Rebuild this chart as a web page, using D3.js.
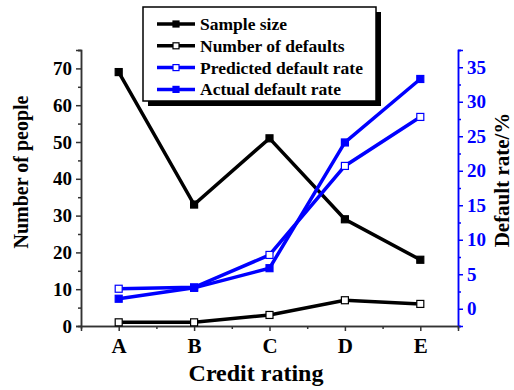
<!DOCTYPE html>
<html>
<head lang="en">
    <meta charset="UTF-8">
    <title>Credit rating chart</title>
    <script src="https://cdnjs.cloudflare.com/ajax/libs/d3/7.8.5/d3.min.js" charset="utf-8"></script>
    <style>
        body { margin: 0; background: white; }
        text { font-family: "Liberation Serif", "Times New Roman", serif; font-weight: bold; }
    </style>
</head>

<body>
<div id="chart"></div>
<script>

// data
var categories = ['A', 'B', 'C', 'D', 'E'];
var sampleSize = [69, 33, 51, 29, 18];
var defaults = [1, 1, 3, 7, 6];
var predictedRate = [2.9, 3.1, 7.8, 20.7, 27.8];
var actualRate = [1.45, 3.03, 5.88, 24.1, 33.3];
var leftTicks = [0, 10, 20, 30, 40, 50, 60, 70];
var rightTicks = [0, 5, 10, 15, 20, 25, 30, 35];

var width = 514, height = 390;
var margin = {top: 50, bottom: 64, left: 81, right: 56};

var svg = d3.select('#chart').append('svg')
    .attr('width', width)
    .attr('height', height);

var x = d3.scaleLinear().domain([0.5, 5.5]).range([margin.left, width - margin.right]);
var yL = d3.scaleLinear().domain([0, 75]).range([height - margin.bottom, margin.top]);
var yR = d3.scaleLinear().domain([-2.5, 37.5]).range([height - margin.bottom, margin.top]);

var blue = '#0000ff';

function styleAxis(g, color, size) {
    g.select('.domain').attr('stroke', color).attr('stroke-width', 1.5);
    g.selectAll('.tick line').attr('stroke', color).attr('stroke-width', 1.5);
    g.selectAll('.tick text').attr('fill', color).style('font-size', size + 'px');
}

// minor ticks
svg.append('g').attr('transform', 'translate(' + margin.left + ',0)')
    .call(d3.axisLeft(yL).tickValues([5, 15, 25, 35, 45, 55, 65, 75]).tickSize(3).tickFormat(''))
    .call(styleAxis, '#333', 18);
svg.append('g').attr('transform', 'translate(' + (width - margin.right) + ',0)')
    .call(d3.axisRight(yR).tickValues([-2.5, 2.5, 7.5, 12.5, 17.5, 22.5, 27.5, 32.5, 37.5]).tickSize(3).tickFormat(''))
    .call(styleAxis, blue, 18);
svg.append('g').attr('transform', 'translate(0,' + (height - margin.bottom) + ')')
    .call(d3.axisBottom(x).tickValues([1.5, 2.5, 3.5, 4.5]).tickSize(3).tickFormat(''))
    .call(styleAxis, '#333', 18);

// major axes
var gl = svg.append('g').attr('transform', 'translate(' + margin.left + ',0)')
    .call(d3.axisLeft(yL).tickValues(leftTicks).tickSize(5).tickPadding(4))
    .call(styleAxis, '#333', 19);
gl.selectAll('.tick text').attr('fill', '#000');

svg.append('g').attr('transform', 'translate(' + (width - margin.right) + ',0)')
    .call(d3.axisRight(yR).tickValues(rightTicks).tickSize(5).tickPadding(4))
    .call(styleAxis, blue, 19);

var gx = svg.append('g').attr('transform', 'translate(0,' + (height - margin.bottom) + ')')
    .call(d3.axisBottom(x).tickValues([1, 2, 3, 4, 5]).tickSize(5).tickPadding(7)
        .tickFormat(function(d) { return categories[d - 1]; }))
    .call(styleAxis, '#333', 21);
gx.selectAll('.tick text').attr('fill', '#000');

// axis titles
svg.append('text')
    .attr('transform', 'translate(28,172) rotate(-90)')
    .attr('text-anchor', 'middle')
    .style('font-size', '20px')
    .text('Number of people');

svg.append('text')
    .attr('transform', 'translate(509,180) rotate(-90)')
    .attr('text-anchor', 'middle')
    .style('font-size', '21px')
    .text('Default rate/%');

svg.append('text')
    .attr('x', 256)
    .attr('y', 381)
    .attr('text-anchor', 'middle')
    .style('font-size', '24px')
    .text('Credit rating');

// series
var series = [
    {name: 'Sample size', values: sampleSize, y: yL, color: '#000', filled: true},
    {name: 'Number of defaults', values: defaults, y: yL, color: '#000', filled: false},
    {name: 'Predicted default rate', values: predictedRate, y: yR, color: blue, filled: false},
    {name: 'Actual default rate', values: actualRate, y: yR, color: blue, filled: true}
];

var ms = 7;

series.forEach(function(s) {
    var line = d3.line()
        .x(function(d, i) { return x(i + 1); })
        .y(function(d) { return s.y(d); });
    svg.append('path')
        .datum(s.values)
        .attr('d', line)
        .attr('fill', 'none')
        .attr('stroke', s.color)
        .attr('stroke-width', 3.5);
});

series.forEach(function(s) {
    svg.selectAll(null)
        .data(s.values)
        .enter().append('rect')
        .attr('x', function(d, i) { return x(i + 1) - ms / 2; })
        .attr('y', function(d) { return s.y(d) - ms / 2; })
        .attr('width', ms)
        .attr('height', ms)
        .attr('fill', s.filled ? s.color : '#fff')
        .attr('stroke', s.color)
        .attr('stroke-width', 1.2);
});

// legend
var lg = svg.append('g').attr('transform', 'translate(143,7)');
var lw = 233, lh = 94;
lg.append('rect').attr('x', 5).attr('y', 5).attr('width', lw).attr('height', lh).attr('fill', '#000');
lg.append('rect').attr('width', lw).attr('height', lh).attr('fill', '#fff')
    .attr('stroke', '#000').attr('stroke-width', 1.5);

series.forEach(function(s, i) {
    var yy = 17 + i * 21.8;
    lg.append('line')
        .attr('x1', 14).attr('x2', 52).attr('y1', yy).attr('y2', yy)
        .attr('stroke', s.color).attr('stroke-width', 3.5);
    lg.append('rect')
        .attr('x', 33 - 3).attr('y', yy - 3).attr('width', 6).attr('height', 6)
        .attr('fill', s.filled ? s.color : '#fff')
        .attr('stroke', s.color).attr('stroke-width', 1.2);
    lg.append('text')
        .attr('x', 57).attr('y', yy + 6)
        .style('font-size', '17.5px')
        .text(s.name);
});

</script>
</body>
</html>
